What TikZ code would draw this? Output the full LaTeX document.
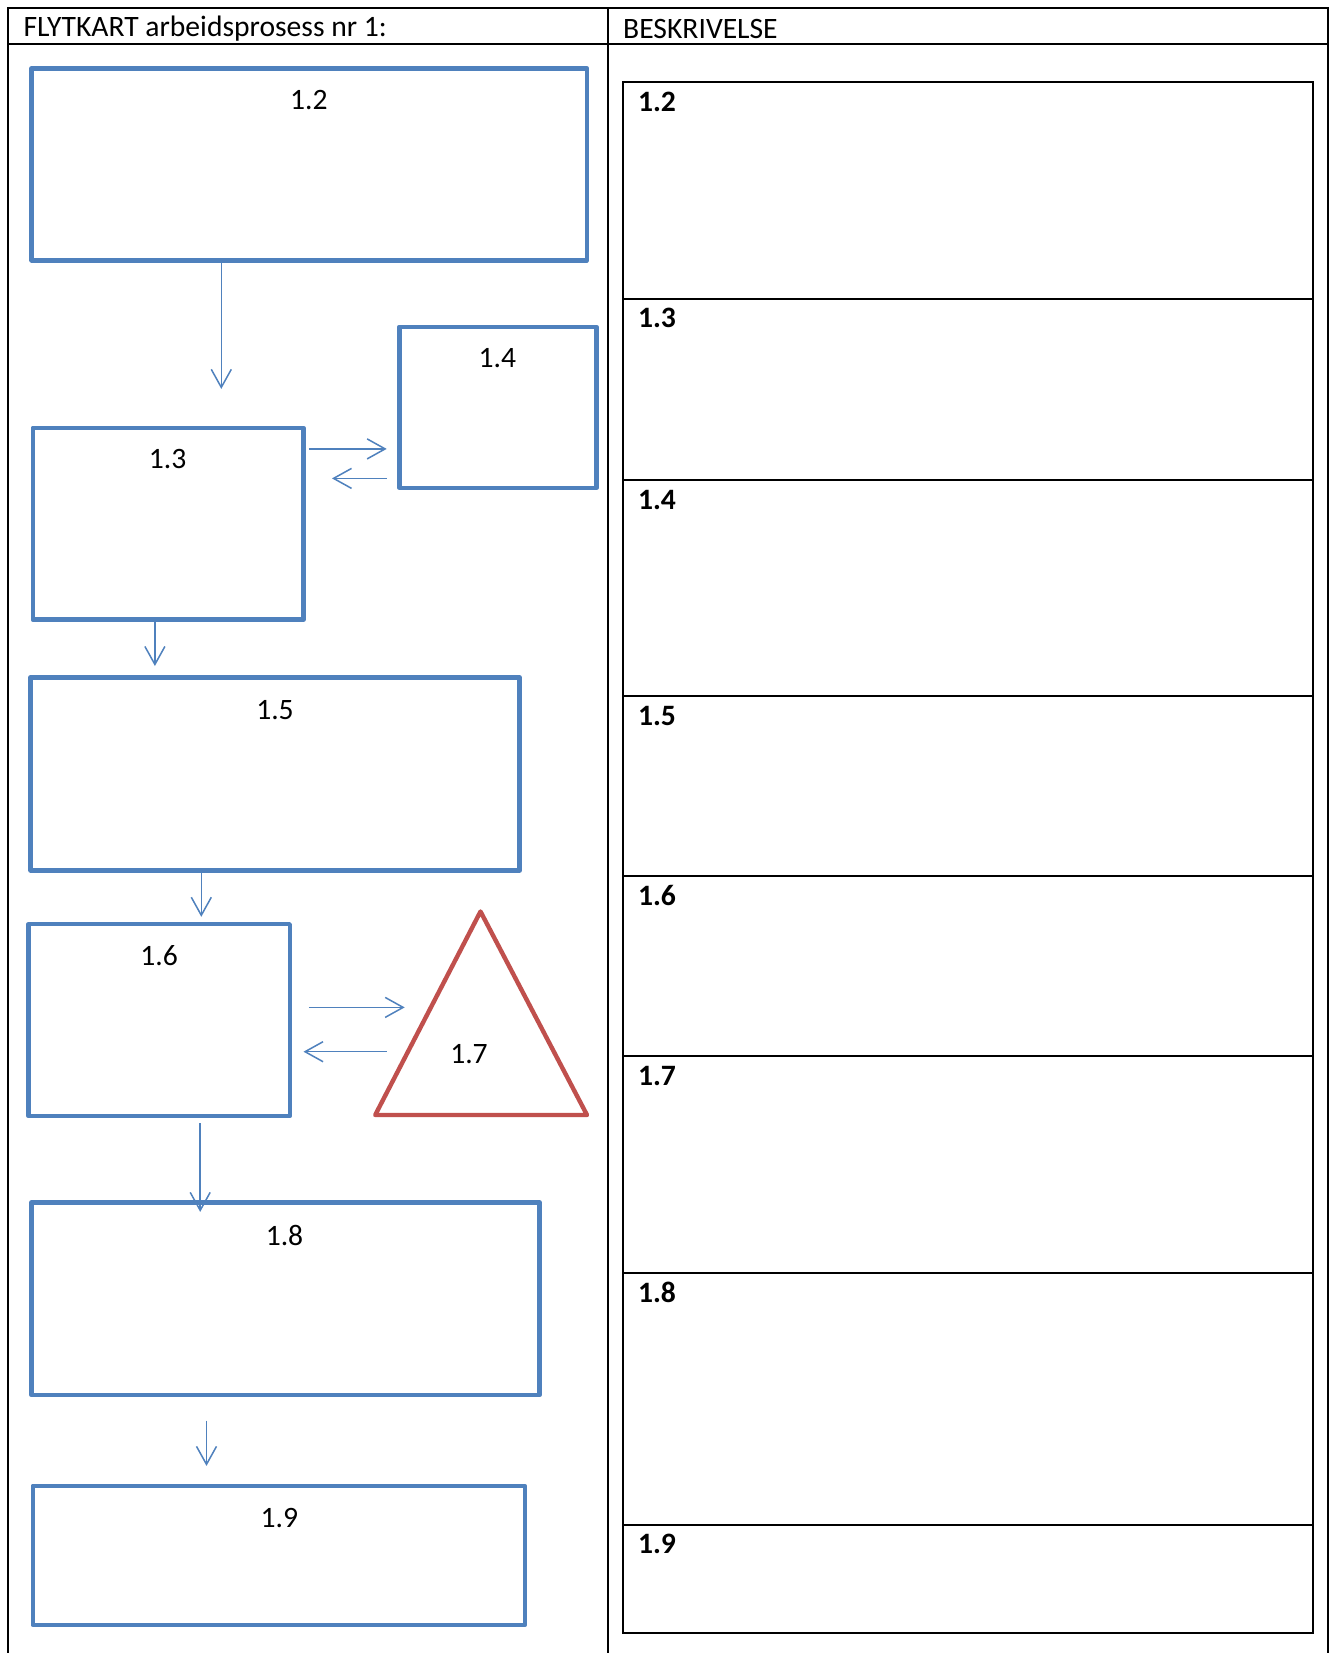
\documentclass[tikz,border=0pt]{standalone}
\usepackage{fontspec}
\setmainfont{Carlito}
\usetikzlibrary{arrows.meta,fit}
\definecolor{boxblue}{HTML}{4F81BD}
\definecolor{boxred}{HTML}{C0504D}
\begin{document}
\begin{tikzpicture}[x=0.5pt,y=-0.5pt,
  bbox/.style={draw=boxblue,line width=2.2pt,line join=round,inner sep=0pt},
  tbl/.style={draw=black,line width=1pt},
  arr/.style={draw=boxblue,line width=0.75pt,-{Straight Barb[length=9pt,width=10pt,line width=0.75pt]}},
  lbl/.style={font=\fontsize{14.8}{16}\selectfont,inner sep=0pt},
  blbl/.style={font=\fontsize{14.8}{16}\selectfont\bfseries,inner sep=0pt,anchor=west},
  hdr/.style={font=\fontsize{14.8}{16}\selectfont,inner sep=0pt,anchor=west}]
\useasboundingbox (0,0) rectangle (1332,1653);
\fill[white] (0,0) rectangle (1332,1653);
% table frame
\draw[tbl] (8.4,1653) -- (8.4,8.4) -- (1328,8.4) -- (1328,1653);
\draw[tbl] (8.4,44.3) -- (1328,44.3);
\draw[tbl] (608,8.4) -- (608,1653);
\node[hdr] (h1) at (23.2,28.5) {FLYTKART arbeidsprosess nr 1:};
\node[hdr] (h2) at (622.8,28.5) {BESKRIVELSE};
% right column
\draw[tbl] (622.8,82.2) rectangle (1313,1633.4);
\foreach \yy in {299.3,479.5,695.5,875.7,1055.9,1273,1524.9}
  \draw[tbl] (622.8,\yy) -- (1313,\yy);
\node[blbl] (r12) at (637.6,102.2) {1.2};
\node[blbl] (r13) at (637.6,318.2) {1.3};
\node[blbl] (r14) at (637.6,499.5) {1.4};
\node[blbl] (r15) at (637.6,715.5) {1.5};
\node[blbl] (r16) at (637.6,895.7) {1.6};
\node[blbl] (r17) at (637.6,1075.9) {1.7};
\node[blbl] (r18) at (637.6,1292) {1.8};
\node[blbl] (r19) at (637.6,1543.8) {1.9};
% left boxes
\node[bbox, fit={(31.6,68.5) (587,260.3)}] (b12) {};
\node[bbox, fit={(399.4,326.7) (596.5,487.9)}] (b14) {};
\node[bbox, fit={(32.7,427.8) (303.5,619.6)}] (b13) {};
\node[bbox, fit={(30.6,677.6) (519.5,870.4)}] (b15) {};
\node[bbox, fit={(28.5,924.2) (289.8,1116)}] (b16) {};
\node[bbox, fit={(31.6,1202.4) (539.5,1395.2)}] (b18) {};
\node[bbox, fit={(32.7,1485.9) (524.8,1625)}] (b19) {};
\draw[draw=boxred,line width=2.2pt,line join=round] (480.5,911.5) -- (587,1115) -- (375.2,1115) -- cycle;
\node[lbl] (t12) at (308.8,100.1) {1.2};
\node[lbl] (t14) at (497.4,358.3) {1.4};
\node[lbl] (t13) at (167.6,459.5) {1.3};
\node[lbl] (t15) at (275,710.3) {1.5};
\node[lbl] (t16) at (159.1,955.8) {1.6};
\node[lbl] (t17) at (469,1053.8) {1.7};
\node[lbl] (t18) at (284.5,1235) {1.8};
\node[lbl] (t19) at (279.3,1517.5) {1.9};
% arrows
\coordinate (a1s) at (221.3,260.3); \coordinate (a1e) at (221.3,388.9);
\coordinate (a2s) at (308.8,448.9); \coordinate (a2e) at (386.7,448.9);
\coordinate (a3s) at (386.7,478.4); \coordinate (a3e) at (332,478.4);
\coordinate (a4s) at (154.9,619.6); \coordinate (a4e) at (154.9,666);
\coordinate (a5s) at (201.3,870.4); \coordinate (a5e) at (201.3,916.8);
\coordinate (a6s) at (308.8,1007.4); \coordinate (a6e) at (404.7,1007.4);
\coordinate (a7s) at (386.7,1051.7); \coordinate (a7e) at (303.5,1051.7);
\coordinate (a8s) at (200.2,1123.4); \coordinate (a8e) at (200.2,1211.9);
\coordinate (a9s) at (206.5,1420.5); \coordinate (a9e) at (206.5,1465.9);
\draw[arr] (a1s) -- (a1e);
\draw[arr] (a2s) -- (a2e);
\draw[arr] (a3s) -- (a3e);
\draw[arr] (a4s) -- (a4e);
\draw[arr] (a5s) -- (a5e);
\draw[arr] (a6s) -- (a6e);
\draw[arr] (a7s) -- (a7e);
\draw[arr] (a8s) -- (a8e);
\draw[arr] (a9s) -- (a9e);
\end{tikzpicture}
\end{document}
